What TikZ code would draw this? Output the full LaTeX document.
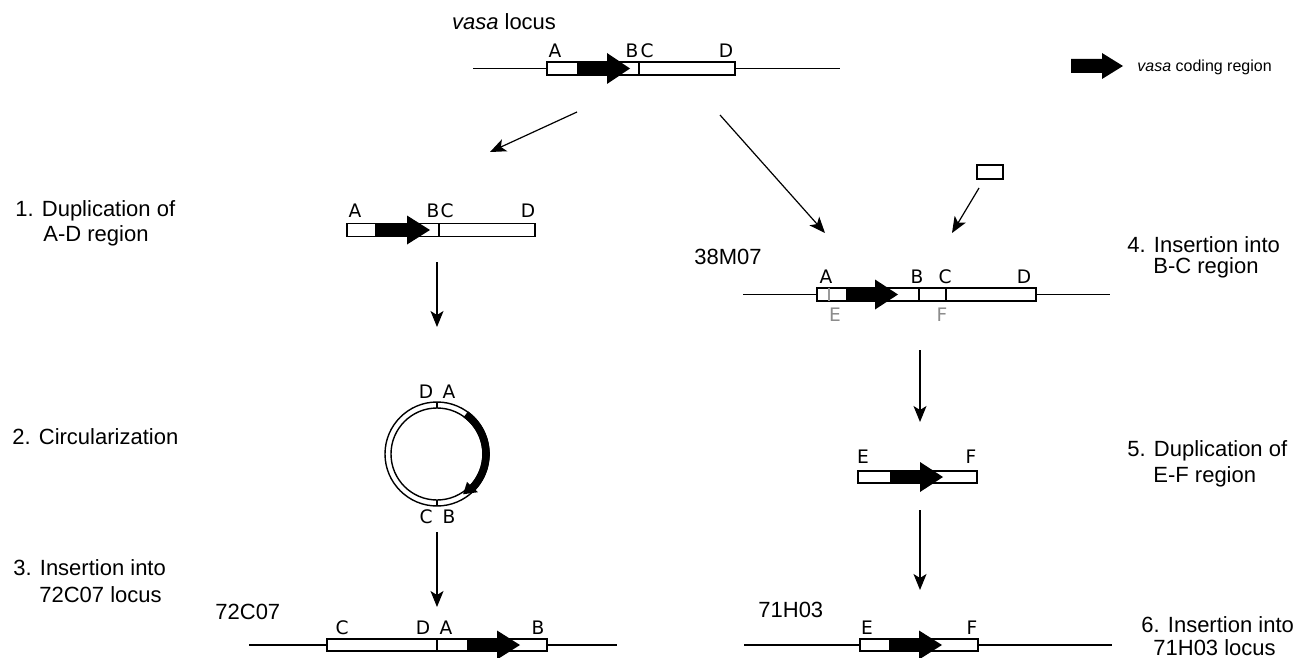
\documentclass[tikz,border=0pt]{standalone}
\usepackage{fontspec}
\setmainfont{Liberation Sans}
\newfontfamily\lblfont{DejaVu Sans}
\usetikzlibrary{arrows.meta,calc}
\newcommand{\garrow}[6]{\fill (#1,#4-#5) -- (#2,#4-#5) -- (#2,#4-#6) -- (#3,#4) -- (#2,#4+#6) -- (#2,#4+#5) -- (#1,#4+#5) -- cycle;}
\tikzset{
 main/.style={font=\fontsize{11}{13}\selectfont, inner sep=0pt},
 small/.style={font=\fontsize{8}{9}\selectfont, inner sep=0pt},
 lbl/.style={font=\lblfont\fontsize{9.3}{10}\selectfont, inner sep=0pt},
 glbl/.style={lbl, text=black!45},
 flow/.style={line width=0.6pt, -{Stealth[length=8pt,width=6.5pt,inset=2pt]}},
 dna/.style={line width=0.6pt},
 seg/.style={draw, line width=0.7pt, fill=white},
 div/.style={line width=0.7pt},
 gdiv/.style={line width=0.7pt, draw=black!40},
}
\begin{document}
\begin{tikzpicture}[x=0.5pt,y=-0.5pt]
\useasboundingbox (0,0) rectangle (1295,658);

% ---------- top: vasa locus
\node[main] (vasalocus) at (504,22) {\textit{vasa} locus};
\draw[dna] (473,68.5) -- (840,68.5);
\path[seg] (547,62) rectangle (735,75);
\garrow{577}{607}{630}{68.5}{6.5}{15.5}
\draw[div] (639,62) -- (639,75);
\node[lbl] (tA) at (555,51) {A};
\node[lbl] (tB) at (632,51) {B};
\node[lbl] (tC) at (647,51) {C};
\node[lbl] (tD) at (726,51) {D};

% legend
\garrow{1071}{1102}{1123}{66}{7}{13}
\node[small, anchor=west] (legend) at (1137,67) {\textit{vasa} coding region};

% arrows from top
\coordinate (topL) at (577,112);
\coordinate (s1in) at (490,152);
\coordinate (topR) at (720,115);
\coordinate (s4in) at (825,233);
\draw[flow] (topL) -- (s1in);
\draw[flow] (topR) -- (s4in);

% ---------- step 1
\node[main, anchor=west] (l1a) at (15,211) {1. Duplication of};
\node[main, anchor=west] (l1b) at (43,236) {A-D region};
\path[seg] (347,223.5) rectangle (535,236.5);
\garrow{375}{407}{430}{230}{6.5}{14.5}
\draw[div] (439,223.5) -- (439,236.5);
\node[lbl] (aA) at (355,211) {A};
\node[lbl] (aB) at (433,211) {B};
\node[lbl] (aC) at (447,211) {C};
\node[lbl] (aD) at (528,211) {D};

\coordinate (s1out) at (437,262);
\coordinate (s2in) at (437,327);
\draw[flow] (s1out) -- (s2in);

% ---------- step 2: circle
\node[main, anchor=west] (l2) at (12,437) {2. Circularization};
\coordinate (cc) at (437,454);
\draw[line width=0.7pt] (cc) circle[radius=26pt];
\draw[line width=0.7pt] (cc) circle[radius=23pt];
\draw[line width=3.8pt] ($(cc)+(54:24.5pt)$) arc[start angle=54, end angle=-44, radius=24.5pt];
\fill ($(cc)+(-43:20.5pt)$) -- ($(cc)+(-43:28pt)$) -- ($(cc)+(-57:24pt)$) -- cycle;
\draw[div] ($(cc)+(90:23pt)$) -- ($(cc)+(90:26pt)$);
\draw[div] ($(cc)+(-90:23pt)$) -- ($(cc)+(-90:26pt)$);
\node[lbl] (cD) at (426,392) {D};
\node[lbl] (cA) at (449,392) {A};
\node[lbl] (cC) at (426,517) {C};
\node[lbl] (cB) at (449,517) {B};

\coordinate (s2out) at (437,532);
\coordinate (s3in) at (437,607);
\draw[flow] (s2out) -- (s3in);

% ---------- step 3
\node[main, anchor=west] (l3a) at (13,568) {3. Insertion into};
\node[main, anchor=west] (l3b) at (39,595) {72C07 locus};
\node[main, anchor=west] (n72) at (215,612) {72C07};
\draw[dna] (249,645) -- (617,645);
\path[seg] (327,639) rectangle (547,651);
\garrow{467}{497}{520}{645}{6}{14.5}
\draw[div] (437,639) -- (437,651);
\node[lbl] (bC) at (342,628) {C};
\node[lbl] (bD) at (423,628) {D};
\node[lbl] (bA) at (446,628) {A};
\node[lbl] (bB) at (538,628) {B};

% ---------- step 4
\node[main, anchor=east] (n38) at (762,257) {38M07};
\node[main, anchor=west] (l4a) at (1127,245) {4. Insertion into};
\node[main, anchor=west] (l4b) at (1153,268) {B-C region};
\path[seg] (977,165) rectangle (1003,179);
\coordinate (insout) at (979,188);
\coordinate (insin) at (952,233);
\draw[flow] (insout) -- (insin);
\draw[dna] (743,294.5) -- (1110,294.5);
\path[seg] (817,288) rectangle (1036,301);
\draw[gdiv] (829,288) -- (829,301);
\garrow{846}{875}{898}{294.5}{6.5}{15}
\draw[div] (919,288) -- (919,301);
\draw[div] (946,288) -- (946,301);
\node[lbl] (dA) at (826,277) {A};
\node[lbl] (dB) at (917,277) {B};
\node[lbl] (dC) at (945,277) {C};
\node[lbl] (dD) at (1024,277) {D};
\node[glbl] (dE) at (835,315) {E};
\node[glbl] (dF) at (942,315) {F};

\coordinate (s4out) at (920,350);
\coordinate (s5in) at (920,422);
\draw[flow] (s4out) -- (s5in);

% ---------- step 5
\node[main, anchor=west] (l5a) at (1127,451) {5. Duplication of};
\node[main, anchor=west] (l5b) at (1153,477) {E-F region};
\path[seg] (858,471) rectangle (977,483);
\garrow{890}{920}{943}{477}{6}{15}
\node[lbl] (eE) at (863,457) {E};
\node[lbl] (eF) at (971,457) {F};

\coordinate (s5out) at (920,510);
\coordinate (s6in) at (920,590);
\draw[flow] (s5out) -- (s6in);

% ---------- step 6
\node[main, anchor=west] (n71) at (758,610) {71H03};
\node[main, anchor=west] (l6a) at (1141,625) {6. Insertion into};
\node[main, anchor=west] (l6b) at (1153,648) {71H03 locus};
\draw[dna] (744,645) -- (1112,645);
\path[seg] (860,639) rectangle (978,651);
\garrow{889}{919}{942}{645}{6}{14.5}
\node[lbl] (fE) at (867,628) {E};
\node[lbl] (fF) at (972,628) {F};
\end{tikzpicture}
\end{document}
